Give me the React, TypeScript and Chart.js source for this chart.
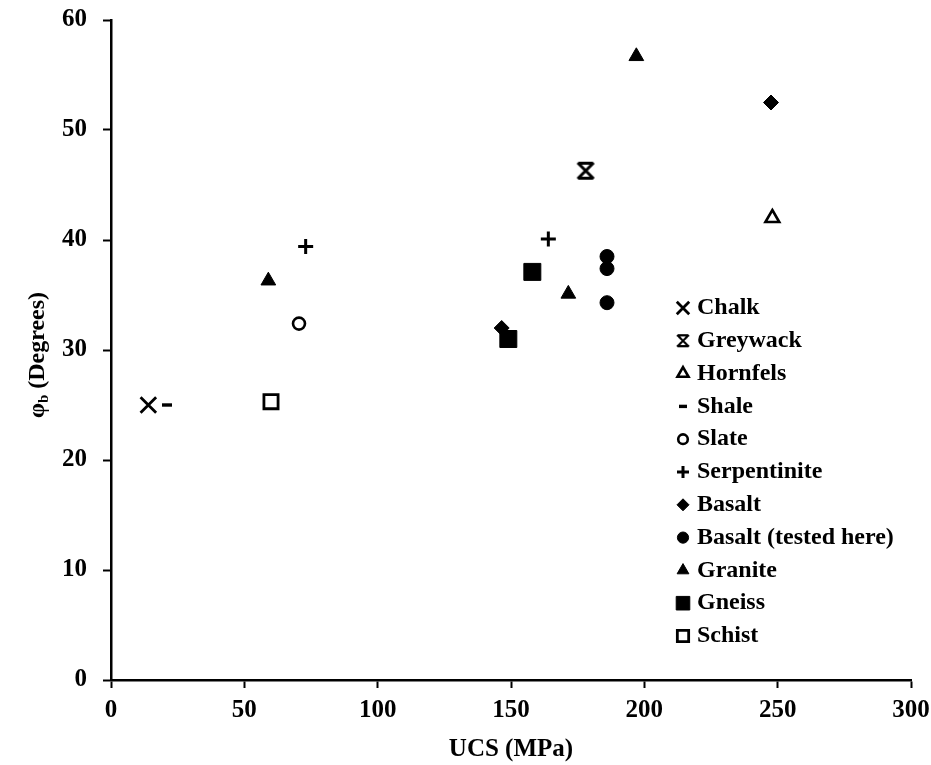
import React, { useEffect, useRef } from 'react';
import { Chart, registerables } from 'chart.js';
import { drawPoint } from 'chart.js/helpers';

Chart.register(...registerables);

// ---- data (UCS in MPa, basic friction angle in degrees) ----
const seriesNames = ['Chalk', 'Greywack', 'Hornfels', 'Shale', 'Slate', 'Serpentinite', 'Basalt', 'Basalt (tested here)', 'Granite', 'Gneiss', 'Schist'];

const chalkUCS = [14];
const chalkPhi = [25];
const greywackUCS = [178];
const greywackPhi = [46.3];
const hornfelsUCS = [248];
const hornfelsPhi = [42];
const shaleUCS = [21];
const shalePhi = [25];
const slateUCS = [70.5];
const slatePhi = [32.4];
const serpentiniteUCS = [73, 164];
const serpentinitePhi = [39.4, 40.1];
const basaltUCS = [146.5, 247.5];
const basaltPhi = [32, 52.5];
const basaltTestedUCS = [186, 186, 186];
const basaltTestedPhi = [38.5, 37.4, 34.3];
const graniteUCS = [59, 171.5, 197];
const granitePhi = [36.3, 35.1, 56.7];
const gneissUCS = [149, 158];
const gneissPhi = [31, 37.1];
const schistUCS = [60];
const schistPhi = [25.3];

const xTicks = [0, 50, 100, 150, 200, 250, 300];
const yTicks = [0, 10, 20, 30, 40, 50, 60];

const toPoints = (xs: number[], ys: number[]) => xs.map((x, i) => ({ x, y: ys[i] }));

function makeAsterisk(): HTMLCanvasElement {
  const s = 22;
  const c = document.createElement('canvas');
  c.width = s;
  c.height = s;
  const ctx = c.getContext('2d')!;
  ctx.strokeStyle = '#000';
  ctx.lineWidth = 3;
  ctx.lineCap = 'butt';
  const m = s / 2;
  const r = 8;
  ctx.beginPath();
  ctx.moveTo(m - r, m - r);
  ctx.lineTo(m + r, m + r);
  ctx.moveTo(m + r, m - r);
  ctx.lineTo(m - r, m + r);
  ctx.moveTo(m - r + 0.5, m - r + 0.5);
  ctx.lineTo(m + r - 0.5, m - r + 0.5);
  ctx.moveTo(m - r + 0.5, m + r - 0.5);
  ctx.lineTo(m + r - 0.5, m + r - 0.5);
  ctx.stroke();
  return c;
}

export default function App() {
  const ref = useRef<HTMLCanvasElement | null>(null);

  useEffect(() => {
    const canvas = ref.current!;
    const asterisk = makeAsterisk();

    const styles: any[] = [
      { pointStyle: 'crossRot', radius: 11, bg: '#000', bw: 2.8 },
      { pointStyle: asterisk, radius: 10, bg: '#000', bw: 0 },
      { pointStyle: 'triangle', radius: 8, bg: '#fff', bw: 2.6 },
      { pointStyle: 'line', radius: 5, bg: '#000', bw: 3.4 },
      { pointStyle: 'circle', radius: 6, bg: '#fff', bw: 2.6 },
      { pointStyle: 'cross', radius: 7.5, bg: '#000', bw: 3 },
      { pointStyle: 'rectRot', radius: 7.5, bg: '#000', bw: 1 },
      { pointStyle: 'circle', radius: 7, bg: '#000', bw: 1 },
      { pointStyle: 'triangle', radius: 8.5, bg: '#000', bw: 1 },
      { pointStyle: 'rect', radius: 12, bg: '#000', bw: 1 },
      { pointStyle: 'rect', radius: 10, bg: '#fff', bw: 2.8 },
    ];

    const dataLists = [
      toPoints(chalkUCS, chalkPhi),
      toPoints(greywackUCS, greywackPhi),
      toPoints(hornfelsUCS, hornfelsPhi),
      toPoints(shaleUCS, shalePhi),
      toPoints(slateUCS, slatePhi),
      toPoints(serpentiniteUCS, serpentinitePhi),
      toPoints(basaltUCS, basaltPhi),
      toPoints(basaltTestedUCS, basaltTestedPhi),
      toPoints(graniteUCS, granitePhi),
      toPoints(gneissUCS, gneissPhi),
      toPoints(schistUCS, schistPhi),
    ];

    const datasets = seriesNames.map((name, i) => ({
      label: name,
      data: dataLists[i],
      pointStyle: styles[i].pointStyle,
      pointRadius: styles[i].radius,
      pointHoverRadius: styles[i].radius,
      backgroundColor: styles[i].bg,
      borderColor: '#000',
      borderWidth: styles[i].bw,
      showLine: false,
    }));

    const legendPlugin = {
      id: 'customLegend',
      afterDraw(chart: any) {
        const ctx = chart.ctx as CanvasRenderingContext2D;
        ctx.save();
        const x0 = 683;
        const y0 = 308;
        const step = 32.8;
        seriesNames.forEach((name, i) => {
          const y = y0 + i * step;
          const st = styles[i];
          ctx.fillStyle = st.bg;
          ctx.strokeStyle = '#000';
          ctx.lineWidth = st.bw;
          if (st.pointStyle instanceof HTMLCanvasElement) {
            ctx.drawImage(st.pointStyle, x0 - 8, y - 8, 16, 16);
          } else {
            drawPoint(ctx, { pointStyle: st.pointStyle, radius: st.radius * 0.8, borderWidth: st.bw, rotation: 0 } as any, x0, y);
          }
          ctx.fillStyle = '#000';
          ctx.font = 'bold 24px "Liberation Serif"';
          ctx.textAlign = 'left';
          ctx.textBaseline = 'middle';
          ctx.fillText(name, x0 + 14, y);
        });
        // y-axis title with subscript
        ctx.translate(38, 355);
        ctx.rotate(-Math.PI / 2);
        ctx.textBaseline = 'middle';
        ctx.textAlign = 'left';
        const main = 'φ';
        const sub = 'b';
        const rest = ' (Degrees)';
        ctx.font = 'bold 24px "Liberation Serif"';
        const wMain = ctx.measureText(main).width;
        const wRest = ctx.measureText(rest).width;
        ctx.font = 'bold 15px "Liberation Serif"';
        const wSub = ctx.measureText(sub).width;
        const total = wMain + wSub + wRest;
        let x = -total / 2;
        ctx.font = 'bold 24px "Liberation Serif"';
        ctx.fillText(main, x, 0);
        x += wMain;
        ctx.font = 'bold 15px "Liberation Serif"';
        ctx.fillText(sub, x, 6);
        x += wSub;
        ctx.font = 'bold 24px "Liberation Serif"';
        ctx.fillText(rest, x, 0);
        ctx.restore();
      },
    };

    const tickFont = { family: '"Liberation Serif"', size: 25, weight: 'bold' as const };
    const titleFont = { family: '"Liberation Serif"', size: 25, weight: 'bold' as const };

    const chart = new Chart(canvas, {
      type: 'scatter',
      data: { datasets },
      options: {
        responsive: false,
        animation: false,
        layout: { autoPadding: false, padding: { left: 0, right: 20, top: 20, bottom: 0 } },
        plugins: {
          legend: { display: false },
          tooltip: { enabled: false },
        },
        scales: {
          x: {
            type: 'linear',
            min: 0,
            max: 300,
            afterBuildTicks: (scale: any) => {
              scale.ticks = xTicks.map((v) => ({ value: v }));
            },
            afterFit: (scale: any) => {
              scale.height = 85;
              scale.paddingLeft = 0;
              scale.paddingRight = 0;
            },
            ticks: { color: '#000', font: tickFont, padding: 8 },
            grid: {
              drawOnChartArea: false,
              drawTicks: true,
              tickLength: 8,
              tickWidth: 2,
              tickColor: '#000',
            },
            border: { display: true, color: '#000', width: 2.5 },
            title: {
              display: true,
              text: 'UCS (MPa)',
              color: '#000',
              font: titleFont,
              padding: { top: 0, bottom: 0 },
            },
          },
          y: {
            type: 'linear',
            min: 0,
            max: 60,
            afterBuildTicks: (scale: any) => {
              scale.ticks = yTicks.map((v) => ({ value: v }));
            },
            afterFit: (scale: any) => {
              scale.width = 111;
              scale.paddingTop = 0;
              scale.paddingBottom = 0;
            },
            ticks: { color: '#000', font: tickFont, padding: 16 },
            grid: {
              drawOnChartArea: false,
              drawTicks: true,
              tickLength: 8,
              tickWidth: 2,
              tickColor: '#000',
            },
            border: { display: true, color: '#000', width: 2.5 },
          },
        },
      },
      plugins: [legendPlugin],
    });

    return () => chart.destroy();
  }, []);

  return (
    <div style={{ position: 'absolute', left: 0, top: 0, width: 931, height: 765, background: '#fff' }}>
      <canvas ref={ref} width={931} height={765} style={{ display: 'block' }} />
    </div>
  );
}
